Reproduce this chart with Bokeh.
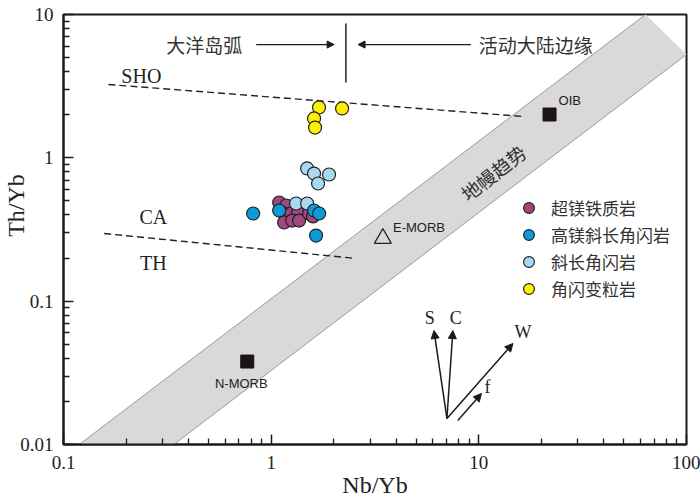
import math
from bokeh.plotting import figure
from bokeh.models import (FixedTicker, Label, Arrow, NormalHead, Legend, LegendItem,
                          Range1d, CustomJSTickFormatter)
from bokeh.embed import file_html
from bokeh.resources import INLINE

# ---------------- data ----------------
# 超镁铁质岩
ultra_nb = [1.093, 1.181, 1.155, 1.248, 1.348, 1.155, 1.262, 1.363, 1.523, 1.59]
ultra_th = [0.488, 0.465, 0.409, 0.409, 0.416, 0.354, 0.365, 0.365, 0.409, 0.390]
# 斜长角闪岩
amph_nb = [1.318, 1.49, 1.49, 1.609, 1.90, 1.682]
amph_th = [0.480, 0.480, 0.843, 0.777, 0.765, 0.662]
# 高镁斜长角闪岩
hmg_nb = [0.819, 1.093, 1.609, 1.702, 1.645]
hmg_th = [0.409, 0.429, 0.429, 0.409, 0.287]
# 角闪变粒岩
gran_nb = [1.70, 2.195, 1.609, 1.627]
gran_th = [2.245, 2.21, 1.882, 1.627]

# reference compositions: OIB, N-MORB (squares) and E-MORB (triangle)
ref_nb = [21.9, 0.767]
ref_th = [2.005, 0.0379]
emorb_nb = [3.45]
emorb_th = [0.274]

# mantle array band boundaries
band_lo_nb = [0.119, 63.5]
band_lo_th = [0.01, 10.0]
band_hi_nb = [0.34, 100.0]
band_hi_th = [0.01, 5.26]

# discrimination lines
sho_nb = [0.1645, 16.3]
sho_th = [3.249, 1.943]
ca_nb = [0.157, 2.56]
ca_th = [0.2965, 0.1985]
arc_nb = [2.29, 2.29]
arc_th = [3.354, 8.65]

x_ticks = [0.1, 1, 10, 100]
y_ticks = [0.01, 0.1, 1, 10]

legend_labels = ["超镁铁质岩", "高镁斜长角闪岩", "斜长角闪岩", "角闪变粒岩"]
colors = ["#a0477f", "#0b9bd7", "#a9d9f2", "#fff000"]

SERIF = "Liberation Serif"
CJK = "Noto Sans CJK SC"
SANS = "Liberation Sans"

p = figure(width=700, height=500, x_axis_type="log", y_axis_type="log",
           x_range=Range1d(0.1, 100), y_range=Range1d(0.01, 10),
           output_backend="svg", toolbar_location=None,
           min_border_left=62, min_border_right=14, min_border_top=14, min_border_bottom=56)
p.grid.visible = False
p.outline_line_color = "#1a1a1a"
p.outline_line_width = 2
p.background_fill_color = "white"
p.border_fill_color = "white"

def minors(ticks):
    out = []
    for t in ticks[:-1]:
        out += [t * k for k in range(2, 10)]
    return out

p.xaxis.ticker = FixedTicker(ticks=x_ticks, minor_ticks=minors(x_ticks))
p.yaxis.ticker = FixedTicker(ticks=y_ticks, minor_ticks=minors(y_ticks))
fmt = CustomJSTickFormatter(code="return (Math.round(tick*1000)/1000).toString();")
for ax in (p.xaxis[0], p.yaxis[0]):
    ax.formatter = fmt
    ax.axis_line_width = 2
    ax.axis_line_color = "#1a1a1a"
    ax.major_tick_in = 10
    ax.major_tick_out = 0
    ax.minor_tick_in = 6
    ax.minor_tick_out = 0
    ax.major_tick_line_width = 1.5
    ax.minor_tick_line_width = 1.3
    ax.major_tick_line_color = "#1a1a1a"
    ax.minor_tick_line_color = "#1a1a1a"
    ax.major_label_text_font = SERIF
    ax.major_label_text_font_size = "19px"
    ax.major_label_text_color = "#222222"
    ax.axis_label_text_font = SERIF
    ax.axis_label_text_font_size = "24px"
    ax.axis_label_text_font_style = "normal"
    ax.axis_label_text_color = "#222222"

p.xaxis.axis_label = "Nb/Yb"
p.yaxis.axis_label = "\u00a0" * 8 + "Th/Yb"
p.xaxis.major_label_standoff = 11
p.yaxis.major_label_standoff = 10
p.xaxis.axis_label_standoff = 0
p.yaxis.axis_label_standoff = -12

# mantle band
p.patch(band_lo_nb + band_hi_nb[::-1], band_lo_th + band_hi_th[::-1],
        fill_color="#d9d9d9", line_color=None)
p.line(band_lo_nb, band_lo_th, line_color="#9a9a9a", line_width=1)
p.line(band_hi_nb, band_hi_th, line_color="#9a9a9a", line_width=1)

# dashed lines
p.line(sho_nb, sho_th, line_dash="7 4", line_width=1.4, line_color="#222222")
p.line(ca_nb, ca_th, line_dash="7 4", line_width=1.4, line_color="#222222")
p.line(arc_nb, arc_th, line_width=1.5, line_color="#222222")

# reference points
p.scatter(ref_nb, ref_th, marker="square", size=13, fill_color="#1a1514", line_color="#1a1514")
p.scatter(emorb_nb, emorb_th, marker="triangle", size=17, fill_color=None,
          line_color="#222222", line_width=1.2)

# samples
r_ultra = p.scatter(ultra_nb, ultra_th, size=13, fill_color=colors[0], line_color="#222222", line_width=1.2)
r_amph = p.scatter(amph_nb, amph_th, size=13, fill_color=colors[2], line_color="#222222", line_width=1.2)
r_hmg = p.scatter(hmg_nb, hmg_th, size=13, fill_color=colors[1], line_color="#222222", line_width=1.2)
r_gran = p.scatter(gran_nb, gran_th, size=13, fill_color=colors[3], line_color="#222222", line_width=1.2)

legend = Legend(items=[LegendItem(label=legend_labels[0], renderers=[r_ultra]),
                       LegendItem(label=legend_labels[1], renderers=[r_hmg]),
                       LegendItem(label=legend_labels[2], renderers=[r_amph]),
                       LegendItem(label=legend_labels[3], renderers=[r_gran])],
                location=(452, 142), orientation="vertical",
                glyph_width=27, glyph_height=27, spacing=-1, padding=0, margin=0,
                label_standoff=9, label_text_font=CJK, label_text_font_size="17px",
                label_text_color="#333333", border_line_color=None,
                background_fill_alpha=0)
p.add_layout(legend)

def lab(x, y, text, font=SERIF, size="18px", angle=0.0, align="center", color="#222222"):
    p.add_layout(Label(x=x, y=y, text=text, text_font=font, text_font_size=size,
                       text_align=align, text_baseline="middle", angle=angle,
                       text_color=color))

# region labels
lab(0.476, 6.17, "大洋岛弧", font=CJK, size="19px", color="#333333")
lab(18.8, 6.17, "活动大陆边缘", font=CJK, size="19px", color="#333333")
lab(0.237, 3.753, "SHO", size="20px")
lab(0.271, 0.3835, "CA", size="20px")
lab(0.271, 0.186, "TH", size="20px")
lab(11.7, 0.79, "地幔趋势", font=CJK, size="19px", angle=math.radians(38), color="#333333")
lab(27.4, 2.51, "OIB", font=SANS, size="13px")
lab(0.718, 0.0266, "N-MORB", font=SANS, size="13px")
lab(5.15, 0.3266, "E-MORB", font=SANS, size="13px")

def arrow(x0, y0, x1, y1, size=7, w=1.3):
    p.add_layout(Arrow(x_start=x0, y_start=y0, x_end=x1, y_end=y1, line_width=w,
                       line_color="#1a1a1a",
                       end=NormalHead(size=size, fill_color="#1a1a1a", line_color="#1a1a1a")))

# horizontal arrows at top
arrow(0.847, 6.17, 2.01, 6.17)
arrow(9.15, 6.17, 2.62, 6.17)

# vector arrows
vec_origin = (7.02, 0.0152)
vec_tips = {"S": (6.08, 0.0624), "C": (7.50, 0.0624), "W": (14.6, 0.0507)}
for k, (tx, ty) in vec_tips.items():
    arrow(vec_origin[0], vec_origin[1], tx, ty, size=8, w=1.5)
arrow(7.92, 0.0147, 10.3, 0.0227, size=8, w=1.5)
lab(5.81, 0.0757, "S")
lab(7.75, 0.0757, "C")
lab(16.3, 0.0605, "W")
lab(11.0, 0.025, "f")

open("out.html", "w").write(file_html(p, INLINE))
